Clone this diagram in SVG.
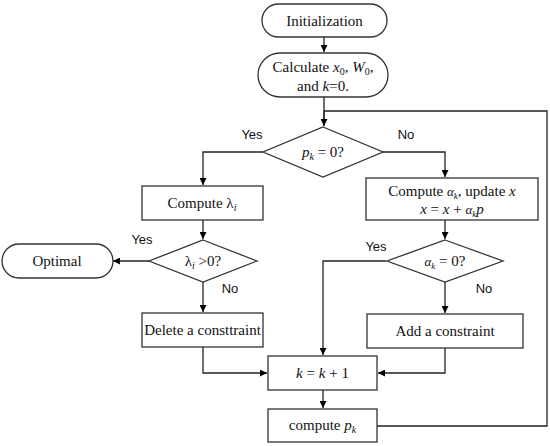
<svg xmlns="http://www.w3.org/2000/svg" width="550" height="446" viewBox="0 0 550 446">
<defs>
<marker id="ah" viewBox="0 0 10 10" refX="10" refY="5" markerWidth="7" markerHeight="7" markerUnits="userSpaceOnUse" orient="auto">
<path d="M0,0 L10,5 L0,10 z" fill="#000"/>
</marker>
<style>
.s{fill:#fff;stroke:#333;stroke-width:1.3}
.c{fill:none;stroke:#222;stroke-width:1.3}
.t{font-family:"Liberation Serif",serif;font-size:15px;fill:#111;text-anchor:middle}
.l{font-family:"Liberation Sans",sans-serif;font-size:13px;fill:#111;text-anchor:middle}
.i{font-style:italic}
</style>
</defs>
<rect width="550" height="446" fill="#fff"/>
<g id="connectors">
<path class="c" d="M324,37 V52" marker-end="url(#ah)"/>
<path class="c" d="M324,97 V126"/>
<path class="c" d="M377,426 H547 V111 H324 V126" marker-end="url(#ah)"/>
<path class="c" d="M263,152 H203 V185" marker-end="url(#ah)"/>
<path class="c" d="M383,152 H445 V177" marker-end="url(#ah)"/>
<path class="c" d="M203,220 V239" marker-end="url(#ah)"/>
<path class="c" d="M149,261 H113" marker-end="url(#ah)"/>
<path class="c" d="M203,282 V312" marker-end="url(#ah)"/>
<path class="c" d="M445,220 V239" marker-end="url(#ah)"/>
<path class="c" d="M386,261 H323 V355" marker-end="url(#ah)"/>
<path class="c" d="M445,282 V313" marker-end="url(#ah)"/>
<path class="c" d="M203,347 V373 H267" marker-end="url(#ah)"/>
<path class="c" d="M445,348 V373 H378" marker-end="url(#ah)"/>
<path class="c" d="M323,390 V408" marker-end="url(#ah)"/>
</g>
<g id="init">
<rect class="s" x="262" y="4" width="125" height="33" rx="16.5"/>
<text class="t" x="324.5" y="26">Initialization</text>
</g>
<g id="calc">
<rect class="s" x="258" y="53" width="130" height="44" rx="22"/>
<text class="t" x="323" y="72">Calculate <tspan class="i">x</tspan><tspan font-size="10" dy="3">0</tspan><tspan dy="-3">, </tspan><tspan class="i">W</tspan><tspan font-size="10" dy="3">0</tspan><tspan dy="-3">,</tspan></text>
<text class="t" x="323" y="91">and <tspan class="i">k</tspan>=0.</text>
</g>
<g id="pk0">
<polygon class="s" points="323,127 383,152 323,177 263,152"/>
<text class="t" x="323" y="157"><tspan class="i">p</tspan><tspan class="i" font-size="10" dy="3">k</tspan><tspan dy="-3"> = 0?</tspan></text>
</g>
<text class="l" x="252" y="139">Yes</text>
<text class="l" x="406" y="139">No</text>
<g id="complambda">
<rect class="s" x="142" y="186" width="121" height="34"/>
<text class="t" x="202" y="208">Compute λ<tspan class="i" font-size="10" dy="3">i</tspan></text>
</g>
<g id="compalpha">
<rect class="s" x="366" y="178" width="172" height="42"/>
<text class="t" x="452" y="196">Compute  <tspan class="i" font-size="13">α</tspan><tspan class="i" font-size="9" dy="3">k</tspan><tspan dy="-3">, update </tspan><tspan class="i">x</tspan></text>
<text class="t" x="452" y="214"><tspan class="i">x</tspan> = <tspan class="i">x</tspan> + <tspan class="i" font-size="13">α</tspan><tspan class="i" font-size="9" dy="3">k</tspan><tspan class="i" dy="-3">p</tspan></text>
</g>
<g id="lambdapos">
<polygon class="s" points="203,240 257,261 203,282 149,261"/>
<text class="t" x="203" y="266">λ<tspan class="i" font-size="10" dy="3">i</tspan><tspan dy="-3"> &gt;0?</tspan></text>
</g>
<text class="l" x="142" y="244">Yes</text>
<text class="l" x="230" y="293">No</text>
<g id="optimal">
<rect class="s" x="2" y="244" width="111" height="34" rx="17"/>
<text class="t" x="57" y="266">Optimal</text>
</g>
<g id="alpha0">
<polygon class="s" points="445,240 503,261 445,282 387,261"/>
<text class="t" x="445" y="266"><tspan class="i" font-size="13">α</tspan><tspan class="i" font-size="9" dy="3">k</tspan><tspan dy="-3"> = 0?</tspan></text>
</g>
<text class="l" x="376" y="251">Yes</text>
<text class="l" x="484" y="293">No</text>
<g id="delete">
<rect class="s" x="142" y="313" width="121" height="34"/>
<text class="t" x="202.5" y="335">Delete a consttraint</text>
</g>
<g id="add">
<rect class="s" x="367" y="314" width="156" height="34"/>
<text class="t" x="445" y="336">Add a constraint</text>
</g>
<g id="kinc">
<rect class="s" x="268" y="356" width="109" height="34"/>
<text class="t" x="322.5" y="378"><tspan class="i">k</tspan> = <tspan class="i">k</tspan> + 1</text>
</g>
<g id="computepk">
<rect class="s" x="268" y="409" width="109" height="33"/>
<text class="t" x="322.5" y="430">compute <tspan class="i">p</tspan><tspan class="i" font-size="10" dy="3">k</tspan></text>
</g>
</svg>
